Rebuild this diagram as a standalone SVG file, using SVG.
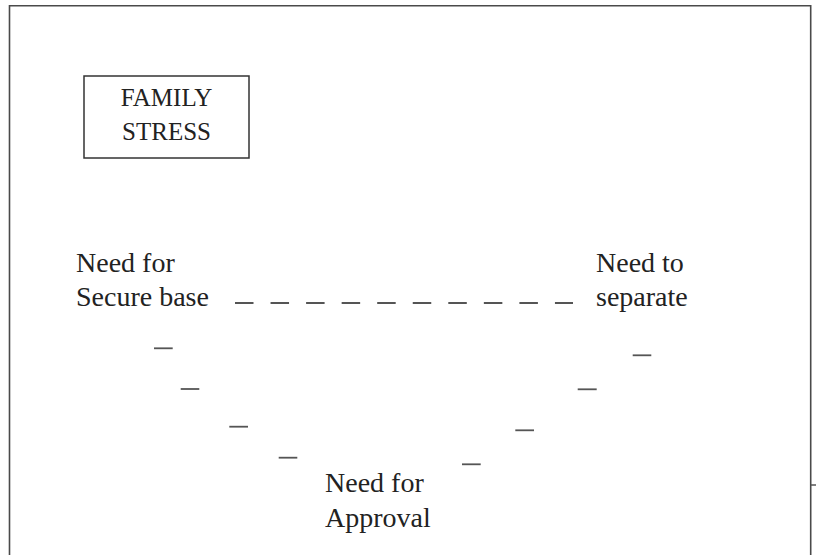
<svg xmlns="http://www.w3.org/2000/svg" width="816" height="555" viewBox="0 0 816 555">
  <style>
    .frame { fill: none; stroke: #4a4a4a; stroke-width: 1.6; }
    .box { fill: #ffffff; stroke: #333333; stroke-width: 1.5; }
    .lbl { font-family: "Liberation Serif", "Times New Roman", serif; font-size: 28px; fill: #222222; }
    .boxlbl { font-family: "Liberation Serif", "Times New Roman", serif; font-size: 25px; fill: #222222; text-anchor: middle; }
    .dash { stroke: #555555; stroke-width: 1.8; fill: none; }
  </style>
  <rect width="816" height="555" fill="#ffffff"/>

  <!-- outer frame: top, left and right edges -->
  <path class="frame" d="M9.5,560 V5.7 H810.7 V560"/>
  <line x1="811" y1="485" x2="816" y2="485" stroke="#555555" stroke-width="1.5"/>

  <g id="family-stress">
    <rect class="box" x="84" y="76" width="165" height="82"/>
    <text class="boxlbl" x="166.5" y="106">FAMILY</text>
    <text class="boxlbl" x="166.5" y="140">STRESS</text>
  </g>

  <g id="secure-base">
    <text class="lbl" x="76" y="272">Need for</text>
    <text class="lbl" x="76" y="306">Secure base</text>
  </g>

  <g id="separate">
    <text class="lbl" x="596" y="272">Need to</text>
    <text class="lbl" x="596" y="306">separate</text>
  </g>

  <g id="approval">
    <text class="lbl" x="325" y="492">Need for</text>
    <text class="lbl" x="325" y="527">Approval</text>
  </g>

  <g id="connectors">
    <!-- top dashed link -->
    <line class="dash" x1="235" y1="303" x2="573" y2="303" stroke-dasharray="18.5 17.05"/>
    <!-- left descending dashes -->
    <line class="dash" x1="154" y1="348.3" x2="172.7" y2="348.3"/>
    <line class="dash" x1="180.7" y1="389" x2="199.3" y2="389"/>
    <line class="dash" x1="229.3" y1="426.7" x2="248" y2="426.7"/>
    <line class="dash" x1="278.7" y1="457.7" x2="297.3" y2="457.7"/>
    <!-- right descending dashes -->
    <line class="dash" x1="632.7" y1="355.3" x2="651.3" y2="355.3"/>
    <line class="dash" x1="577.7" y1="389.3" x2="596.7" y2="389.3"/>
    <line class="dash" x1="515.3" y1="430.3" x2="534" y2="430.3"/>
    <line class="dash" x1="462" y1="464.3" x2="480.7" y2="464.3"/>
  </g>
</svg>
